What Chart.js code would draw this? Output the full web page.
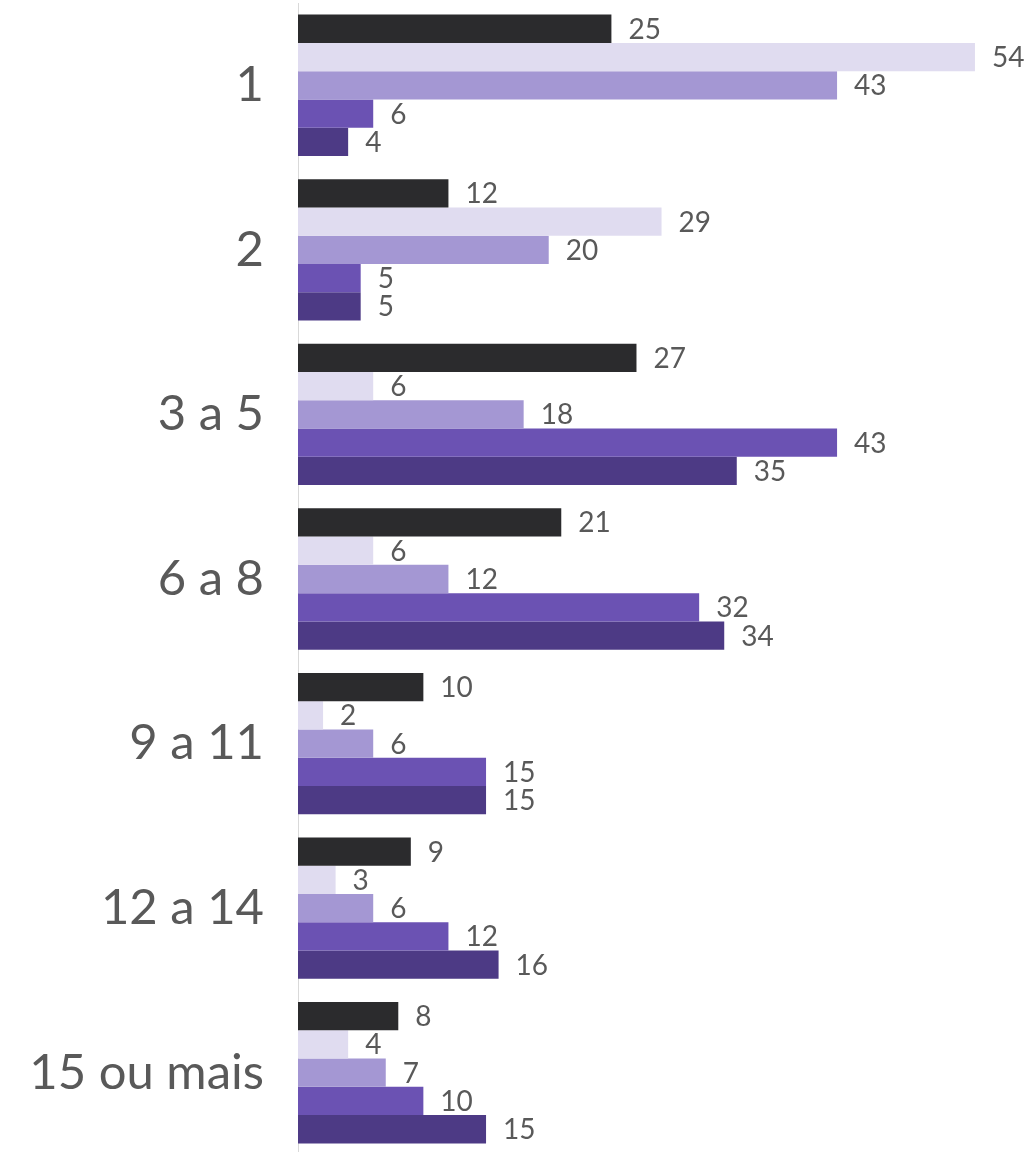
<!DOCTYPE html>
<html>
<head>
<meta charset="utf-8">
<script src="https://cdn.jsdelivr.net/npm/chart.js@4/dist/chart.umd.min.js"></script>
<style>
  html, body { margin: 0; padding: 0; background: #fff; overflow: hidden; }
  #wrap { width: 1031px; height: 1155px; position: relative; }
</style>
</head>
<body>
<div id="wrap"><canvas id="barChart"></canvas></div>
<script>
// categories and series
const categories = ['1', '2', '3 a 5', '6 a 8', '9 a 11', '12 a 14', '15 ou mais'];
const serie1 = [25, 12, 27, 21, 10, 9, 8];
const serie2 = [54, 29, 6, 6, 2, 3, 4];
const serie3 = [43, 20, 18, 12, 6, 6, 7];
const serie4 = [6, 5, 43, 32, 15, 12, 10];
const serie5 = [4, 5, 35, 34, 15, 16, 15];
const colors = ['#2b2b2d', '#e0dcf0', '#a497d3', '#6b52b3', '#4d3a85'];

const labelColor = '#595959';

// value labels drawn right after each bar
const valueLabels = {
  id: 'valueLabels',
  afterDatasetsDraw(chart) {
    const ctx = chart.ctx;
    ctx.save();
    ctx.font = '28px Lato';
    ctx.fillStyle = labelColor;
    ctx.textAlign = 'left';
    ctx.textBaseline = 'alphabetic';
    chart.data.datasets.forEach((ds, i) => {
      const meta = chart.getDatasetMeta(i);
      meta.data.forEach((bar, j) => {
        ctx.fillText(String(ds.data[j]), bar.x + 17, bar.y + 10);
      });
    });
    ctx.restore();
  }
};

const series = [serie1, serie2, serie3, serie4, serie5];

new Chart(document.getElementById('barChart').getContext('2d'), {
  type: 'bar',
  data: {
    labels: categories,
    datasets: series.map((s, i) => ({
      label: 'Série ' + (i + 1),
      data: s,
      backgroundColor: colors[i],
      borderWidth: 0,
      barPercentage: 1,
      categoryPercentage: 0.859
    }))
  },
  options: {
    indexAxis: 'y',
    responsive: true,
    maintainAspectRatio: false,
    animation: false,
    layout: { padding: { top: 3, bottom: 0, left: 0, right: 0 } },
    plugins: {
      legend: { display: false },
      tooltip: { enabled: false }
    },
    scales: {
      x: {
        display: false,
        min: 0,
        max: 58.47
      },
      y: {
        grid: { display: false },
        border: { display: true, color: '#d9d9d9', width: 1 },
        afterFit: (scale) => {
          scale.width = 298;
          scale.paddingTop = 0;
          scale.paddingBottom = 0;
        },
        ticks: {
          padding: 26,
          color: labelColor,
          font: { family: 'Lato', size: 49 }
        }
      }
    }
  },
  plugins: [valueLabels]
});
</script>
</body>
</html>
